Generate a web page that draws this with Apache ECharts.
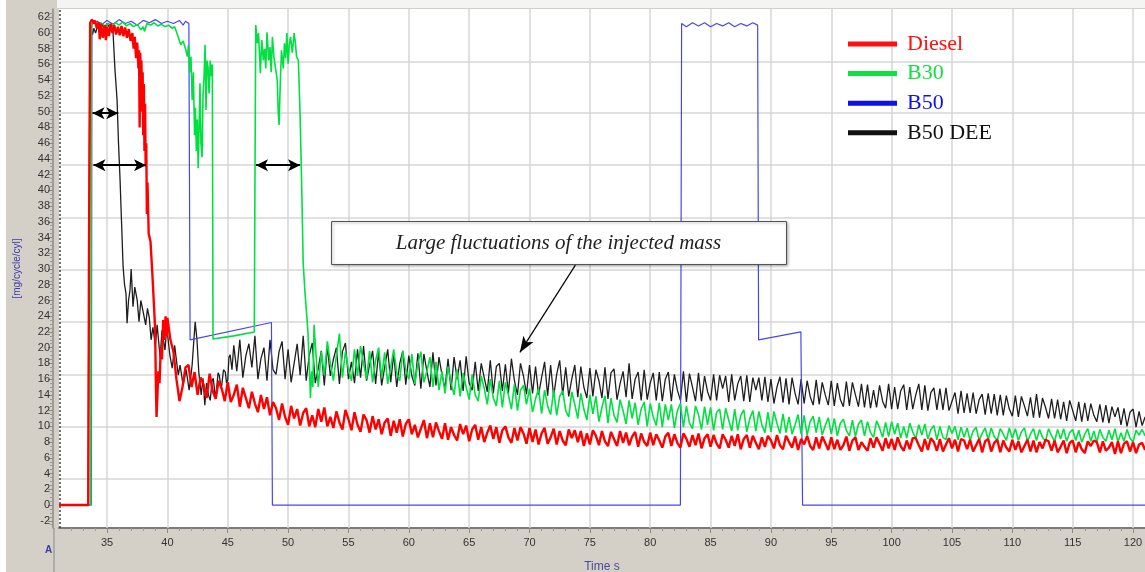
<!DOCTYPE html>
<html><head><meta charset="utf-8">
<script src="https://cdn.jsdelivr.net/npm/echarts@6/dist/echarts.min.js"></script>
<style>html,body{margin:0;padding:0;background:#fff}#c{width:1145px;height:572px}</style>
</head><body><div id="c"></div>
<script>
// ---------- data ----------
const seriesNames = ['Diesel', 'B30', 'B50', 'B50 DEE'];
const xTickLabels = [35,40,45,50,55,60,65,70,75,80,85,90,95,100,105,110,115,120];
const yTickLabels = [-2,0,2,4,6,8,10,12,14,16,18,20,22,24,26,28,30,32,34,36,38,40,42,44,46,48,50,52,54,56,58,60,62];
const gridYValues = [3.4,10.0,16.6,23.3,29.9,36.5,43.2,49.8,56.4];
const TAIL_STEP = 0.25;

// Diesel: explicit head [t, value], then values every TAIL_STEP s from dieselTailStart
const dieselHead = [[31.02,0],[33.45,0],[33.5,30.5],[33.55,30.5],[33.6,61.3],[33.75,61.7],[33.9,61.2],[34.0,61.6],[34.15,60.6],[34.3,61.4],[34.4,59.2],[34.5,61.2],[34.65,59.4],[34.8,61.0],[34.9,59.1],[35.0,60.8],[35.15,59.6],[35.3,61.2],[35.45,60.0],[35.6,61.0],[35.75,59.8],[35.9,60.8],[36.05,59.7],[36.2,60.9],[36.35,59.6],[36.5,60.7],[36.65,59.4],[36.8,60.5],[36.95,59.0],[37.1,60.0],[37.2,58.0],[37.3,59.5],[37.4,56.8],[37.5,58.8],[37.6,55.5],[37.65,57.8],[37.7,48.0],[37.75,57.5],[37.8,53.0],[37.85,56.5],[37.9,50.0],[37.95,55.0],[38.0,47.0],[38.05,53.5],[38.1,45.0],[38.15,51.0],[38.2,43.0],[38.25,46.0],[38.3,37.0],[38.35,41.0],[38.45,34.5],[38.6,33.5],[38.75,29.5],[38.9,25.0],[38.98,22.5],[39.05,15.0],[39.1,11.2],[39.15,13.0],[39.25,17.0],[39.35,15.5],[39.45,20.0],[39.55,18.5],[39.65,23.5],[39.75,21.0],[39.85,24.0],[39.95,21.5]];
const dieselTailStart = 40.0;
const dieselTail = [
23.8,21.0,19.5,16.0, 13.2,15.0,17.5,17.8, 15.0,16.9,14.0,16.2, 15.3,13.6,16.7,14.5,
13.5,15.8,14.8,13.2, 15.6,13.1,14.0,15.3, 12.5,14.9,13.6,12.3, 14.4,12.9,11.8,14.0,
12.2,13.7,11.4,13.1, 12.3,10.8,12.9,11.2, 10.2,12.6,11.0,12.2, 10.1,11.7,12.3,10.0,
11.4,9.9,12.2,10.6, 12.4,10.0,11.2,9.8, 11.9,10.5,9.6,12.1, 10.9,9.5,11.8,10.2,
9.3,11.5,10.8,9.2, 11.3,9.6,10.9,9.0, 10.5,11.0,8.8,10.7, 9.2,10.9,8.7,10.3,
10.9,9.0,10.2,8.6, 9.7,10.8,8.5,10.4, 8.6,10.5,9.4,8.4, 10.4,8.3,9.9,8.9,
8.2,10.3,9.0,10.1, 8.1,9.6,10.2,8.3, 9.9,8.0,9.2,10.1, 8.4,9.9,7.9,9.5,
10.0,8.6,7.9,9.8, 8.2,9.9,9.1,7.8, 9.8,8.0,9.6,7.7, 9.1,9.8,7.8,8.6,
9.7,7.7,9.4,8.2, 7.6,9.6,8.5,9.5, 8.0,9.4,7.5,9.1, 7.7,9.5,8.8,7.6,
9.4,8.1,7.5,9.3, 8.4,7.5,9.4,7.9, 9.2,7.6,8.7,9.3, 7.4,9.1,8.0,7.5,
9.2,7.6,9.0,8.2, 7.3,8.7,9.2,7.5, 9.0,7.9,7.3,9.1, 8.4,7.4,8.9,7.6,
9.1,7.2,8.5,9.0, 7.4,8.9,7.8,7.2, 9.0,8.3,7.3,8.8, 7.5,9.0,7.1,8.4,
8.9,7.3,8.8,7.9, 7.1,8.6,7.4,8.8, 8.2,7.2,8.9,7.6, 7.1,8.8,8.0,7.3,
8.7,7.0,8.4,7.7, 8.8,7.5,7.0,8.6, 7.2,8.7,7.9,7.0, 8.6,7.1,8.3,7.0,
7.6,8.7,6.9,8.2, 8.6,7.0,8.0,7.4, 6.9,8.5,7.3,8.6, 7.8,6.9,8.5,7.2,
8.4,7.0,8.6,7.5, 6.9,8.2,7.1,8.5, 8.5,7.6,6.8,8.4, 7.0,8.5,8.0,6.9,
8.4,6.8,7.7,8.5, 7.2,8.3,6.8,8.4, 8.2,7.1,8.3,6.8, 7.6,8.4,6.7,8.1,
8.4,6.8,7.9,8.3, 6.7,8.2,7.3,6.8, 8.3,7.0,8.1,6.7, 7.5,8.3,6.8,8.2,
6.7,8.0,7.2,8.3, 8.1,6.9,8.2,6.7, 7.4,8.2,6.6,7.9, 8.2,6.7,8.0,7.1,
6.6,8.1,7.5,8.2, 8.0,6.7,8.1,6.9, 7.3,8.0,6.5,8.1, 6.6,7.8,8.1,6.8,
8.0,6.6,7.7,7.9, 7.0];

// B30
const b30Head = [[31.02,0],[33.65,0],[33.7,61.0],[33.9,61.3],[34.2,61.0],[34.5,61.3],[34.8,60.9],[35.1,61.2],[35.4,60.8],[35.7,61.3],[36.0,61.0],[36.3,61.4],[36.6,60.9],[36.9,61.2],[37.2,60.8],[37.5,61.1],[37.8,60.4],[38.0,60.8],[38.1,60.2],[38.3,61.2],[38.6,61.0],[38.9,61.3],[39.2,60.9],[39.5,61.1],[39.8,60.8],[40.1,61.0],[40.4,60.6],[40.6,60.8],[40.9,59.5],[41.1,58.5],[41.3,59.0],[41.5,58.0],[41.65,57.0],[41.75,58.5],[41.85,55.0],[41.95,57.0],[42.05,51.5],[42.15,55.0],[42.25,47.0],[42.32,50.5],[42.4,45.0],[42.48,49.0],[42.55,42.8],[42.62,47.5],[42.7,53.6],[42.78,46.0],[42.87,44.2],[42.95,52.0],[43.05,55.0],[43.12,58.5],[43.2,50.2],[43.28,56.5],[43.37,55.6],[43.45,52.3],[43.55,56.5],[43.65,54.5],[43.72,56.0],[43.78,21.1],[45.5,21.5],[47.2,22.0],[47.25,40.0],[47.32,61.0],[47.45,58.7],[47.55,60.0],[47.7,54.9],[47.82,59.1],[47.95,56.5],[48.05,58.0],[48.15,55.5],[48.25,60.1],[48.4,56.5],[48.5,58.2],[48.6,55.0],[48.7,59.5],[48.82,57.0],[48.95,55.6],[49.1,54.0],[49.18,50.0],[49.25,48.3],[49.35,53.5],[49.45,57.8],[49.6,55.5],[49.7,58.7],[49.8,56.8],[49.9,60.0],[50.0,56.1],[50.1,58.5],[50.2,59.5],[50.35,57.5],[50.5,60.0],[50.6,58.8],[50.7,57.0],[50.85,56.5],[51.0,49.3],[51.15,38.8],[51.25,30.7],[51.4,27.0],[51.55,24.0],[51.65,21.8],[51.75,18.0],[51.85,13.6],[51.95,17.0],[52.05,15.0],[52.15,22.9]];
const b30TailStart = 52.25;
const b30Tail = [
20.5,15.0,19.5,
16.5,20.8,18.0,15.8, 19.0,21.8,16.2,19.5, 17.2,15.8,19.8,16.4, 20.2,18.0,16.0,19.6,
15.6,18.4,20.0,16.2, 19.4,15.4,17.5,19.8, 16.8,15.8,19.6,17.2, 16.0,19.2,15.4,18.0,
19.5,15.6,17.0,18.8, 15.0,18.2,14.6,17.0, 14.2,17.6,15.5,14.0, 17.2,13.8,16.8,15.0,
13.4,16.6,14.0,13.2, 16.4,14.8,12.8,16.0, 13.6,12.6,15.8,12.4, 15.6,14.0,12.2,15.4,
12.0,14.6,15.2,12.8, 14.8,11.8,13.5,14.8, 11.6,14.6,12.6,11.5, 14.6,11.4,13.8,14.5,
12.0,11.2,14.4,12.8, 11.0,14.2,12.2,10.8, 14.0,11.6,13.8,10.6, 12.4,13.9,10.4,13.6,
11.4,10.5,13.4,12.0, 10.3,13.3,11.0,13.0, 10.2,12.2,13.1,10.0, 12.9,11.2,10.1,13.0,
9.9,12.8,10.8,12.8, 9.8,12.0,12.9,9.9, 12.6,10.4,9.7,12.6, 11.5,9.6,12.5,10.2,
12.4,9.5,11.8,12.2, 9.6,12.3,10.8,9.4, 12.2,9.5,11.4,12.1, 9.3,11.0,12.0,9.4,
11.9,10.2,9.2,11.8, 9.3,11.9,10.4,9.1, 11.6,9.2,11.2,9.0, 10.2,11.5,9.0,11.4,
8.9,10.6,11.3,9.2, 11.2,8.9,10.1,11.1, 9.0,11.0,8.8,10.4, 10.9,9.5,8.8,10.8,
8.7,10.3,10.8,8.8, 10.6,9.2,8.6,10.7, 9.8,8.6,10.5,8.7, 10.6,9.0,10.4,8.5,
10.0,8.5,10.4,9.3, 8.4,10.2,8.9,10.3, 8.4,9.6,10.1,8.3, 10.0,8.6,8.3,10.1,
9.1,10.0,8.3,9.9, 8.6,9.8,8.2,9.4, 9.9,8.2,9.1,9.8, 8.3,9.8,8.7,8.2,
9.7,9.0,8.2,9.8, 8.5,9.7,8.2,9.3, 9.8,8.1,9.0,9.7, 8.2,9.6,8.6,8.1,
9.7,8.8,8.1,9.6, 8.4,9.7,8.1,9.2, 9.6,8.2,9.5,8.0, 9.0,9.7,8.1,9.4,
8.0,9.6,8.6,8.1, 9.5,8.3,9.7,8.0, 9.2,8.1,9.6,8.5, 8.0,9.5,8.9,9.6,
8.8];

// B50: step-like trace, explicit [t, value]
const b50Points = [[31.02,0],[33.7,0],[33.75,61.2],[34.2,61.5],[34.5,61.0],[35.0,61.6],[35.5,61.1],[36.0,61.7],[36.5,61.2],[37.0,61.5],[37.5,61.0],[38.0,61.6],[38.5,61.3],[39.0,61.7],[39.5,61.2],[40.0,61.5],[40.5,61.2],[41.0,61.6],[41.3,61.0],[41.5,61.5],[41.78,61.2],[41.88,21.0],[48.62,23.2],[48.7,0],[82.5,0],[82.6,61.2],[83.0,60.8],[83.5,61.3],[84.0,60.9],[84.5,61.3],[85.0,60.8],[85.5,61.2],[86.0,60.9],[86.5,61.3],[87.0,60.8],[87.5,61.2],[88.0,60.9],[88.5,61.3],[88.9,61.0],[88.98,21.0],[92.48,22.0],[92.62,0],[121.0,0]];

// B50 DEE
const b50deeHead = [[31.02,0],[33.42,0],[33.45,10],[33.52,10],[33.58,59.5],[33.7,60.3],[33.8,59.8],[33.9,60.6],[34.05,60.0],[34.2,60.8],[34.4,60.3],[34.6,61.1],[34.8,60.5],[35.0,61.2],[35.2,60.7],[35.4,61.0],[35.5,60.0],[35.65,55.5],[35.83,51.5],[35.95,46.0],[36.08,41.3],[36.2,36.0],[36.33,30.3],[36.45,28.0],[36.57,26.9],[36.66,23.1],[36.78,26.0],[36.9,27.3],[37.0,30.0],[37.15,25.2],[37.3,27.7],[37.5,26.0],[37.65,23.3],[37.8,26.0],[38.0,24.5],[38.2,22.9],[38.35,25.0],[38.5,23.8],[38.65,21.0],[38.8,22.6],[39.0,20.3],[39.15,22.9],[39.4,18.7],[39.55,22.2],[39.8,19.7],[39.95,22.6],[40.2,19.1],[40.4,17.4],[40.6,20.3],[40.9,16.5],[41.05,17.8],[41.3,15.2],[41.55,17.2],[41.8,14.6],[42.05,17.8],[42.3,23.3],[42.45,21.0],[42.6,16.9],[42.8,14.0],[42.95,16.1],[43.1,12.7],[43.25,15.5],[43.4,14.0],[43.55,13.3],[43.7,15.8],[43.8,16.1],[43.95,14.0],[44.05,14.4],[44.2,16.8],[44.3,16.5],[44.45,14.8],[44.5,15.2],[44.65,17.2],[44.8,16.9],[44.9,15.5],[45.0,15.9],[45.1,18.8],[45.2,19.1],[45.35,17.2],[45.5,20.3]];
const b50deeTailStart = 45.75;
const b50deeTail = [
17.0,
21.0,16.2,19.0,20.5, 17.5,21.5,16.0,18.6, 20.0,15.8,21.0,17.2, 16.6,19.5,20.8,16.0,
19.8,15.6,18.0,20.5, 16.5,21.5,15.8,19.0, 20.6,15.5,17.4,19.6, 15.2,20.2,16.4,18.5,
20.0,15.4,19.5,20.6, 16.0,18.2,15.5,19.8, 16.2,20.2,15.8,17.8, 19.6,15.4,19.5,15.2,
17.5,19.8,15.6,19.2, 15.0,18.0,19.6,15.3, 19.0,16.4,15.2,19.3, 14.8,19.2,17.0,15.0,
19.4,15.2,18.8,16.5, 14.8,18.6,14.6,18.8, 16.0,18.4,14.5,18.9, 15.5,14.6,18.2,14.5,
18.0,16.2,14.4,18.4, 14.2,17.6,18.0,14.5, 17.9,14.2,18.6,15.8, 14.0,18.0,16.4,14.1,
17.8,14.2,17.6,14.0, 16.2,18.2,13.9,17.8, 13.8,16.6,18.4,14.0, 17.5,13.8,16.0,17.8,
13.7,17.6,15.0,13.6, 17.4,13.8,17.2,15.8, 13.6,17.5,13.5,16.8, 17.3,13.4,15.4,17.0,
13.7,18.0,13.5,16.0, 16.9,13.3,17.2,13.4, 15.5,16.8,13.3,16.9, 13.2,16.0,16.9,13.2,
16.6,14.6,13.3,17.0, 13.1,16.7,15.0,13.2, 16.8,13.2,16.4,14.4, 13.3,16.6,13.3,16.5,
14.8,16.4,13.1,16.6, 13.3,15.4,16.4,13.2, 16.5,13.1,16.2,14.6, 16.2,13.3,16.3,13.1,
16.0,12.9,15.0,16.3, 13.0,16.1,12.8,16.2, 14.2,12.8,16.0,12.9, 15.8,13.8,12.7,15.9,
12.8,15.6,14.0,12.7, 15.8,12.6,15.5,13.4, 12.5,15.7,12.6,15.6, 14.0,12.5,15.4,12.4,
15.3,12.3,14.6,12.4, 15.2,13.2,12.3,15.4, 12.2,15.0,12.2,14.5, 15.3,12.1,15.0,12.2,
14.0,15.4,12.1,15.2, 12.0,14.3,14.9,12.1, 14.8,12.1,14.9,12.0, 13.2,14.3,11.6,14.5,
11.7,14.2,11.7,14.3, 11.6,13.4,14.1,11.5, 14.2,11.6,14.1,11.4, 14.0,11.4,13.9,12.2,
11.3,13.9,11.2,13.8, 12.6,11.3,13.7,11.1, 14.1,11.1,13.6,12.4, 11.0,13.5,11.0,13.4,
10.9,13.1,10.7,13.3, 12.0,10.7,13.1,10.6, 13.0,10.7,12.9,11.4, 10.6,12.8,10.5,12.7,
10.4,12.5,11.2,12.4, 10.2,12.3,10.0,11.8, 12.2,9.9,11.9,10.1,
11.2];

// annotation arrows (time s, value)
const spanArrows = [[[33.8,49.8],[35.93,49.8]], [[33.87,43.2],[38.23,43.2]], [[47.34,43.2],[50.99,43.2]]];
const pointerArrow = [[73.8,30.5],[69.2,19.4]];
const noteText = 'Large fluctuations of the injected mass';

// ---------- build ----------
function build(head, start, tail) {
  return head.concat(tail.map((v, i) => [+(start + i * TAIL_STEP).toFixed(2), v]));
}
const xMin = 31.02, xMax = 120.99, yMin = -2.92, yMax = 63.05;
const xMinor = []; for (let t = 32; t <= 120; t++) if (t % 5) xMinor.push(t);
const yMinor = []; for (let v = -2.5; v <= 62.6; v += 0.5) if (Math.abs(v % 2) > 0.01) yMinor.push(+v.toFixed(1));

const colors = {Diesel:'#ff0000', B30:'#00e040', B50:'#4646ee', 'B50 DEE':'#1e1e1e'};
const legendColors = {Diesel:'#ff1010', B30:'#10e040', B50:'#1010e8', 'B50 DEE':'#111111'};

const chart = echarts.init(document.getElementById('c'), null, {renderer:'canvas'});
const lineSeries = (name, data, width, z) => ({
  name, type:'line', data, showSymbol:false, symbol:'none', z,
  lineStyle:{color:colors[name], width}, itemStyle:{color:colors[name]},
  animation:false, silent:true
});

chart.setOption({
  animation:false,
  backgroundColor:'#d4d0c8',
  grid:{left:59, right:0, top:9, bottom:44, show:true, backgroundColor:'#ffffff', borderWidth:0,
        containLabel:false, outerBoundsMode:'none'},
  legend:{
    orient:'vertical', left:843, top:28, itemWidth:49, itemHeight:5, itemGap:7.6, icon:'rect',
    selectedMode:false, z:30,
    textStyle:{fontFamily:'Liberation Serif', fontSize:22, padding:[0,0,0,5]},
    data:seriesNames.map(n => ({name:n, textStyle:{color:legendColors[n]}, itemStyle:{color:legendColors[n]}}))
  },
  xAxis:[{
    type:'value', min:xMin, max:xMax, position:'bottom',
    axisLine:{show:true, onZero:false, lineStyle:{color:'#7a7a7a', width:2}},
    axisTick:{show:true, customValues:xTickLabels, length:5, lineStyle:{color:'#8a8a8a'}},
    axisLabel:{customValues:xTickLabels, color:'#333', fontSize:11, fontFamily:'Liberation Sans', margin:9},
    splitLine:{show:false},
    name:'Time s', nameLocation:'middle', nameGap:33,
    nameTextStyle:{color:'#4a4a9a', fontSize:12, fontFamily:'Liberation Sans'}
  },{
    type:'value', min:xMin, max:xMax, position:'bottom',
    axisLine:{show:false, onZero:false},
    axisTick:{show:true, customValues:xMinor, length:3, lineStyle:{color:'#9a9a9a'}},
    axisLabel:{show:false}, splitLine:{show:false}
  }],
  yAxis:[{
    type:'value', min:yMin, max:yMax, position:'left', offset:6,
    axisLine:{show:true, onZero:false, lineStyle:{color:'#8a8a8a', width:1.5}},
    axisTick:{show:true, customValues:yTickLabels, length:5, lineStyle:{color:'#8a8a8a'}},
    axisLabel:{customValues:yTickLabels, color:'#333', fontSize:11, fontFamily:'Liberation Sans', margin:3},
    splitLine:{show:false},
    name:'[mg/cycle/cyl]', nameLocation:'middle', nameGap:31, nameRotate:90,
    nameTextStyle:{color:'#3c3ca8', fontSize:10, fontFamily:'Liberation Sans'}
  },{
    type:'value', min:yMin, max:yMax, position:'left', offset:6,
    axisLine:{show:false, onZero:false},
    axisTick:{show:true, customValues:yMinor, length:3, lineStyle:{color:'#9a9a9a'}},
    axisLabel:{show:false}, splitLine:{show:false}
  }],
  series:[
    {
      name:'grid', type:'line', data:[], z:1, silent:true,
      markLine:{
        silent:true, symbol:'none', label:{show:false}, animation:false, z:1,
        lineStyle:{color:'#d6d6d6', width:1.5, type:'solid'},
        data:xTickLabels.map(v => ({xAxis:v})).concat(gridYValues.map(v => ({yAxis:v})))
          .concat([{xAxis:31.06, lineStyle:{color:'#444', width:1.5, type:[2,2]}}])
      }
    },
    lineSeries('B50 DEE', build(b50deeHead, b50deeTailStart, b50deeTail), 1.3, 2),
    lineSeries('B50', b50Points, 1.2, 3),
    lineSeries('B30', build(b30Head, b30TailStart, b30Tail), 1.6, 4),
    lineSeries('Diesel', build(dieselHead, dieselTailStart, dieselTail), 2.4, 5),
    {
      name:'annot', type:'line', data:[], z:20, silent:true,
      markLine:{
        silent:true, animation:false, label:{show:false}, z:20,
        lineStyle:{color:'#000', width:2, type:'solid'},
        symbol:['arrow','arrow'], symbolSize:[9,12],
        data:spanArrows.map(a => [{coord:a[0]},{coord:a[1]}]).concat([
          [{coord:pointerArrow[0], symbol:'none'},{coord:pointerArrow[1], symbol:'arrow', symbolSize:[9,16], lineStyle:{width:1.2}}]
        ])
      }
    }
  ],
  graphic:[
    {type:'rect', left:0, top:0, z:0, shape:{width:6, height:572}, style:{fill:'#ffffff'}},
    {type:'rect', left:57, top:0, z:0, shape:{width:1088, height:8}, style:{fill:'#f4f4f4'}},
    {type:'line', z:0, shape:{x1:54, y1:528, x2:54, y2:572}, style:{stroke:'#a0a0a0', lineWidth:1.5}},
    {type:'text', left:45, top:545, z:5, style:{text:'A', fill:'#3a3aaa', font:'bold 10px "Liberation Sans"'}},
    {type:'group', left:331, top:221, z:100, children:[
      {type:'rect', z:100, shape:{x:0, y:0, width:455, height:43},
        style:{fill:'#ffffff', stroke:'#555', lineWidth:1, shadowBlur:3, shadowOffsetX:1, shadowOffsetY:1, shadowColor:'rgba(0,0,0,0.35)'}},
      {type:'text', z:101, x:227, y:22,
        style:{text:noteText, fill:'#222', font:'italic 21px "Liberation Serif"', align:'center', verticalAlign:'middle'}}
    ]}
  ]
});
</script></body></html>
